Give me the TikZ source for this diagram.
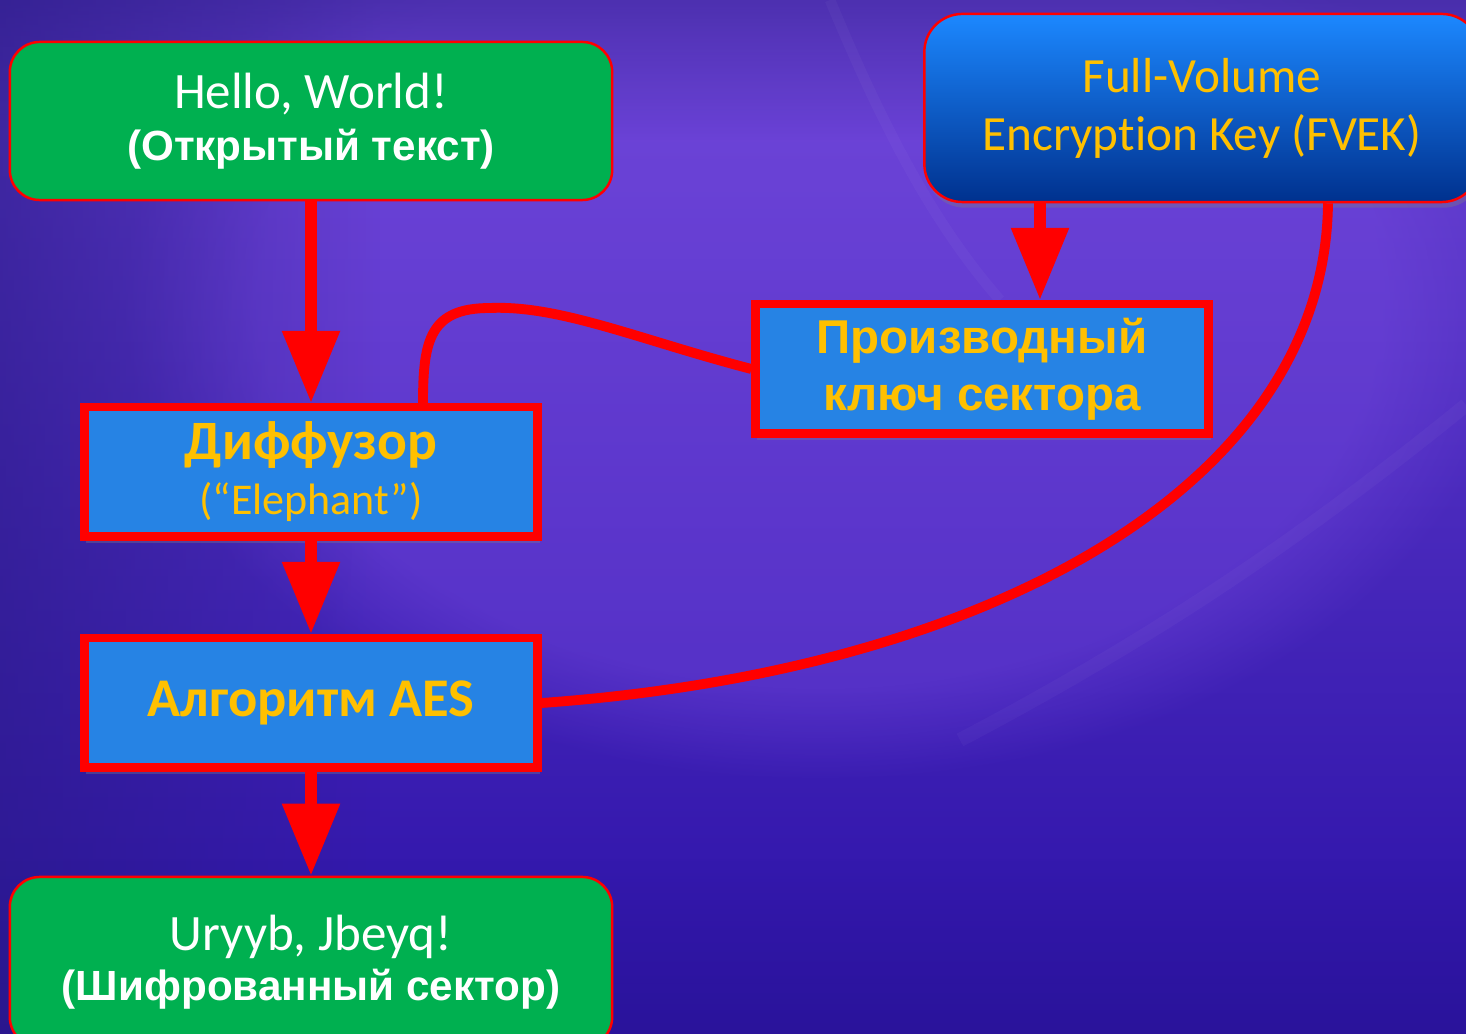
\documentclass[tikz,border=0pt]{standalone}
\usepackage{fontspec}
\setmainfont{Carlito}[Ligatures={TeX,NoCommon}]
\newfontfamily\arialfont{Liberation Sans}
\usetikzlibrary{arrows.meta,shadows,fadings}
\definecolor{bgtop}{HTML}{6842D2}
\definecolor{bgmid}{HTML}{6A34E6}
\definecolor{bgbot}{HTML}{2A10A6}
\definecolor{bgdark}{HTML}{2A1A86}
\definecolor{bgglow}{HTML}{8050EA}
\definecolor{boxgreen}{HTML}{00B050}
\definecolor{boxblue}{HTML}{2683E4}
\definecolor{fvektop}{HTML}{1C88FF}
\definecolor{fvekbot}{HTML}{00318E}
\definecolor{gold}{HTML}{FFC000}

\begin{document}
\begin{tikzpicture}[x=0.01cm, y=-0.01cm,
  textbox/.style={align=center, inner sep=0pt},
  greenbox/.style={textbox, draw=red, line width=0.7pt, fill=boxgreen, rounded corners=0.3cm,
    minimum width=6.02cm, text=white},
  bluebox/.style={textbox, draw=red, line width=2pt, fill=boxblue, minimum width=4.54cm,
    minimum height=1.31cm, text=gold, drop shadow={opacity=0.35, shadow xshift=0.6pt, shadow yshift=-1.6pt}},
  fvekbox/.style={textbox, draw=red, line width=0.7pt, top color=fvektop, bottom color=fvekbot,
    rounded corners=0.38cm, minimum width=5.55cm, minimum height=1.88cm, text=gold,
    drop shadow={opacity=0.35, shadow xshift=0.6pt, shadow yshift=-1.6pt}},
  flow/.style={draw=red, line width=3.4pt, -{Triangle[width=0.55cm, length=0.72cm]}},
  link/.style={draw=red, line width=2.8pt}]
\useasboundingbox (0,0) rectangle (1466,1034);
\clip (0,0) rectangle (1466,1034);

\fill[top color=bgtop, middle color=bgmid, bottom color=bgbot] (0,0) rectangle (1466,1034);
\fill[bgglow, opacity=0.35, path fading=circle with fuzzy edge 20 percent] (820,300) ellipse [x radius=700, y radius=480];
\fill[bgdark, opacity=0.6, path fading=east] (0,0) rectangle (380,1034);
\fill[bgdark, opacity=0.5, path fading=south] (0,0) rectangle (1466,140);
\fill[bgdark, opacity=0.35, path fading=north] (0,860) rectangle (1466,1034);
\draw[white, opacity=0.03, line width=4pt] (1466,405) .. controls (1300,540) and (1150,640) .. (960,740);
\draw[white, opacity=0.03, line width=3pt] (830,0) .. controls (880,120) and (930,220) .. (1000,300);

\node[greenbox, minimum height=1.58cm, font=\fontsize{14.5}{14.8}\selectfont] (hello) at (311,121)
  {Hello, World!\\{\arialfont\bfseries\fontsize{12}{14.8}\selectfont (Открытый текст)}};
\node[fvekbox, font=\fontsize{14}{16.5}\selectfont] (fvek) at (1202,108)
  {Full-Volume\\Encryption Key (FVEK)};
\node[bluebox, font=\arialfont\bfseries\fontsize{13.5}{16.2}\selectfont] (key) at (982,369)
  {Производный\\ключ сектора};
\node[bluebox, font=\bfseries\fontsize{15.8}{15.6}\selectfont] (diff) at (311,472)
  {Диффузор\\{\mdseries\fontsize{12.5}{15.6}\selectfont (“Elephant”)}};
\node[bluebox, font=\bfseries\fontsize{15.5}{18}\selectfont] (aes) at (311,703)
  {Алгоритм AES};
\node[greenbox, minimum height=1.7cm, font=\fontsize{14.5}{14.2}\selectfont] (out) at (311,962)
  {Uryyb, Jbeyq!\\{\arialfont\bfseries\fontsize{12}{14.2}\selectfont (Шифрованный сектор)}};

\foreach \b in {key,diff,aes}
  \draw[red, line width=0.6pt] ([xshift=0.075cm, yshift=0.075cm]\b.south west) rectangle ([xshift=-0.075cm, yshift=-0.075cm]\b.north east);

\coordinate (keyin) at (1040,0);
\coordinate (fvekout) at (1328,0);
\coordinate (diffin) at (423,0);

\draw[flow] (hello) -- (diff);
\draw[flow] (diff) -- (aes);
\draw[flow] (aes) -- (out);
\draw[flow] (fvek.south -| keyin) -- (key.north -| keyin);
\draw[link] (key.west) .. controls (640,340) and (560,305) .. (490,308) .. controls (430,308) and (423,340) .. (diff.north -| diffin);
\draw[link] (fvek.south -| fvekout) .. controls (1325,480) and (1000,670) .. (aes.east);
\end{tikzpicture}
\end{document}
